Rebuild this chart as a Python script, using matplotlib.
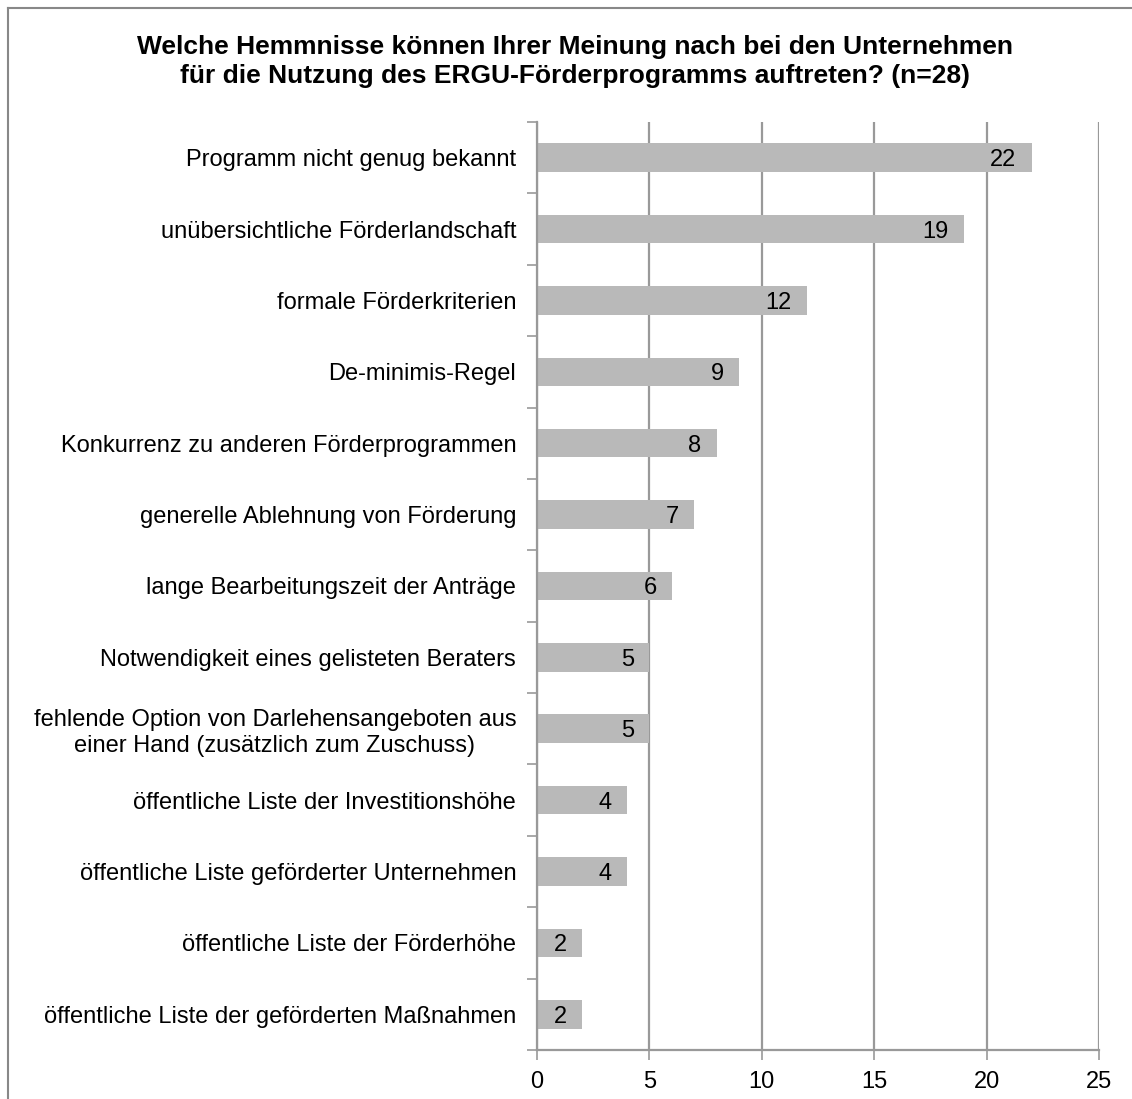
import matplotlib.pyplot as plt
from matplotlib.lines import Line2D

plt.rcParams["font.family"] = ["Liberation Sans", "DejaVu Sans"]

labels = [
    "Programm nicht genug bekannt",
    "unübersichtliche Förderlandschaft",
    "formale Förderkriterien",
    "De-minimis-Regel",
    "Konkurrenz zu anderen Förderprogrammen",
    "generelle Ablehnung von Förderung",
    "lange Bearbeitungszeit der Anträge",
    "Notwendigkeit eines gelisteten Beraters",
    "fehlende Option von Darlehensangeboten aus\neiner Hand (zusätzlich zum Zuschuss)",
    "öffentliche Liste der Investitionshöhe",
    "öffentliche Liste geförderter Unternehmen",
    "öffentliche Liste der Förderhöhe",
    "öffentliche Liste der geförderten Maßnahmen",
]
values = [22, 19, 12, 9, 8, 7, 6, 5, 5, 4, 4, 2, 2]
xticks = [0, 5, 10, 15, 20, 25]

fig = plt.figure(figsize=(11.32, 10.99), dpi=100)
ax = fig.add_axes([0.4744, 0.0446, 0.4964, 0.8444])

pos = list(range(len(labels)))
ax.barh(pos, values, height=0.4, color="#b9b9b9", zorder=2)
for p, v in zip(pos, values):
    ax.annotate(str(v), (v, p), xytext=(-11, 0), textcoords="offset points",
                ha="right", va="center_baseline", fontsize=17, color="black", zorder=3)

ax.set_xlim(0, 25)
ax.set_ylim(len(labels) - 0.5, -0.5)
ax.set_xticks(xticks)
ax.set_xticklabels([str(t) for t in xticks], fontsize=17)
ax.set_yticks(pos)
ax.set_yticklabels(labels, fontsize=17, ha="right", multialignment="center")
ax.set_yticks([p - 0.5 for p in pos] + [len(labels) - 0.5], minor=True)
ax.tick_params(axis="y", which="major", length=0, pad=15)
ax.tick_params(axis="y", which="minor", length=7, width=1.2, color="#999999", direction="out")
ax.tick_params(axis="x", length=7, width=1.2, color="#999999", direction="out", pad=8)
ax.grid(axis="x", color="#999999", linewidth=1.6, zorder=1)
for s in ["top", "right"]:
    ax.spines[s].set_visible(False)
for s in ["left", "bottom"]:
    ax.spines[s].set_color("#999999")
    ax.spines[s].set_linewidth(1.6)

fig.text(0.508, 0.944, "Welche Hemmnisse können Ihrer Meinung nach bei den Unternehmen\n"
         "für die Nutzung des ERGU-Förderprogramms auftreten? (n=28)",
         ha="center", va="center", fontsize=19, fontweight="bold", linespacing=1.25)

# Rahmen nur oben und links
x0, y0 = 8 / 1132, 1 - 8 / 1099
fig.lines.append(Line2D([x0, 1.0], [y0, y0], transform=fig.transFigure,
                        color="#888888", linewidth=1.5))
fig.lines.append(Line2D([x0, x0], [0.0, y0], transform=fig.transFigure,
                        color="#888888", linewidth=1.5))

fig.savefig("out.png", dpi=100)
